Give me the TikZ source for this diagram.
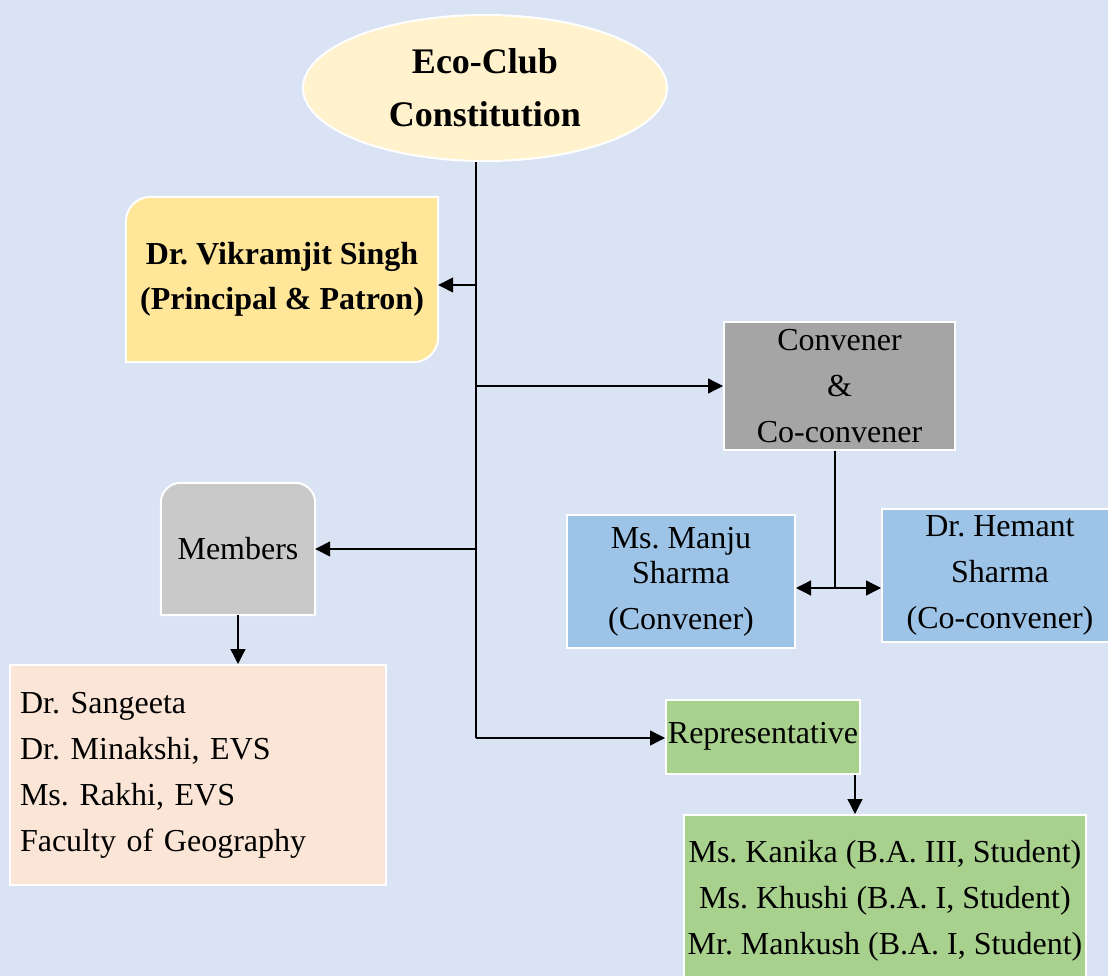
\documentclass[tikz,border=0pt]{standalone}
\usepackage{fontspec}
\setmainfont{Liberation Serif}
\usetikzlibrary{arrows.meta,shapes.geometric}
\pgfdeclarelayer{bgl}
\pgfdeclarelayer{shapes}
\pgfsetlayers{bgl,shapes,main}
\definecolor{bgc}{HTML}{DAE3F3}
\definecolor{ellc}{HTML}{FFF2CC}
\definecolor{gold}{HTML}{FFE699}
\definecolor{cgray}{HTML}{A5A5A5}
\definecolor{blu}{HTML}{9DC3E6}
\definecolor{lgray}{HTML}{C9C9C9}
\definecolor{peach}{HTML}{FBE5D6}
\definecolor{grn}{HTML}{A9D18E}
\frenchspacing
\begin{document}
\frenchspacing
\begin{tikzpicture}[x=1pt,y=-1pt,
  txt/.style={inner sep=0pt, align=center, font=\fontsize{32}{46}\selectfont\frenchspacing},
  box/.style={txt, draw=white, line width=2pt},
  shp/.style={draw=white, line width=2pt},
  arr/.style={line width=1.3pt, -{Triangle[length=15pt,width=15pt]}},
  trunk/.style={line width=1.8pt}]
\begin{pgfonlayer}{bgl}
\fill[bgc] (0,0) rectangle (1108,976);
\end{pgfonlayer}
\useasboundingbox (0,0) rectangle (1108,976);

\node[ellipse, fill=ellc, draw=white, line width=2pt, minimum width=364pt, minimum height=146pt, inner sep=0pt, align=center, font=\bfseries\fontsize{36}{53}\selectfont] (E) at (485,88) {Eco-Club\\Constitution};

\node[txt, minimum width=312pt, minimum height=165pt, font=\bfseries\fontsize{32}{45}\selectfont\frenchspacing] (P) at (282,279.5) {Dr. Vikramjit Singh\\(Principal \& Patron)};

\node[box, fill=cgray, minimum width=231pt, minimum height=128pt] (C) at (839.5,386) {Convener\\\&\\Co-convener};

\node[box, fill=blu, minimum width=228pt, minimum height=133pt] (M) at (681,581.5) {Ms. Manju\\[-11pt]Sharma\\(Convener)};

\node[box, fill=blu, minimum width=236pt, minimum height=133pt] (H) at (1000,575.5) {Dr. Hemant\\Sharma\\(Co-convener)};

\node[txt, minimum width=154pt, minimum height=132pt] (Mb) at (238,549) {Members};

\node[box, fill=peach, text width=356pt, inner xsep=10pt, align=left, minimum height=220pt] (L) at (198,775) {Dr. Sangeeta\\Dr. Minakshi, EVS\\Ms. Rakhi, EVS\\Faculty of Geography};

\node[box, fill=grn, minimum width=194pt, minimum height=74pt] (R) at (763,736.5) {Representative};

\node[box, fill=grn, minimum width=402pt, minimum height=172pt] (S) at (885,901) {Ms. Kanika (B.A. III, Student)\\Ms. Khushi (B.A. I, Student)\\Mr. Mankush (B.A. I, Student)};

\begin{pgfonlayer}{shapes}
\path[shp, fill=gold] ([yshift=-25pt]P.north west) arc[start angle=180,end angle=90,radius=25pt] -- (P.north east) -- ([yshift=25pt]P.south east) arc[start angle=0,end angle=-90,radius=25pt] -- (P.south west) -- cycle;
\path[shp, fill=lgray] (Mb.south west) -- ([yshift=-20pt]Mb.north west) arc[start angle=180,end angle=90,radius=20pt] -- ([xshift=-20pt]Mb.north east) arc[start angle=90,end angle=0,radius=20pt] -- (Mb.south east) -- cycle;
\end{pgfonlayer}

\coordinate (tx) at (476,0);
\coordinate (t1) at (476,738);
\coordinate (bP) at (476,285);
\coordinate (sp) at (835,588);
\coordinate (ra) at (855,0);
\draw[trunk] (tx |- E.south) -- (t1);
\draw[arr] (bP) -- (bP -| P.east);
\draw[arr] (tx |- C.west) -- (C.west);
\draw[arr] (tx |- Mb.east) -- (Mb.east);
\draw[arr] (t1) -- (t1 -| R.west);
\draw[line width=1.3pt] (sp |- C.south) -- (sp);
\draw[arr] (sp) -- (sp -| M.east);
\draw[arr] (sp) -- (sp -| H.west);
\draw[arr] (Mb.south) -- (Mb.south |- L.north);
\draw[arr] (ra |- R.south) -- (ra |- S.north);
\end{tikzpicture}
\end{document}
